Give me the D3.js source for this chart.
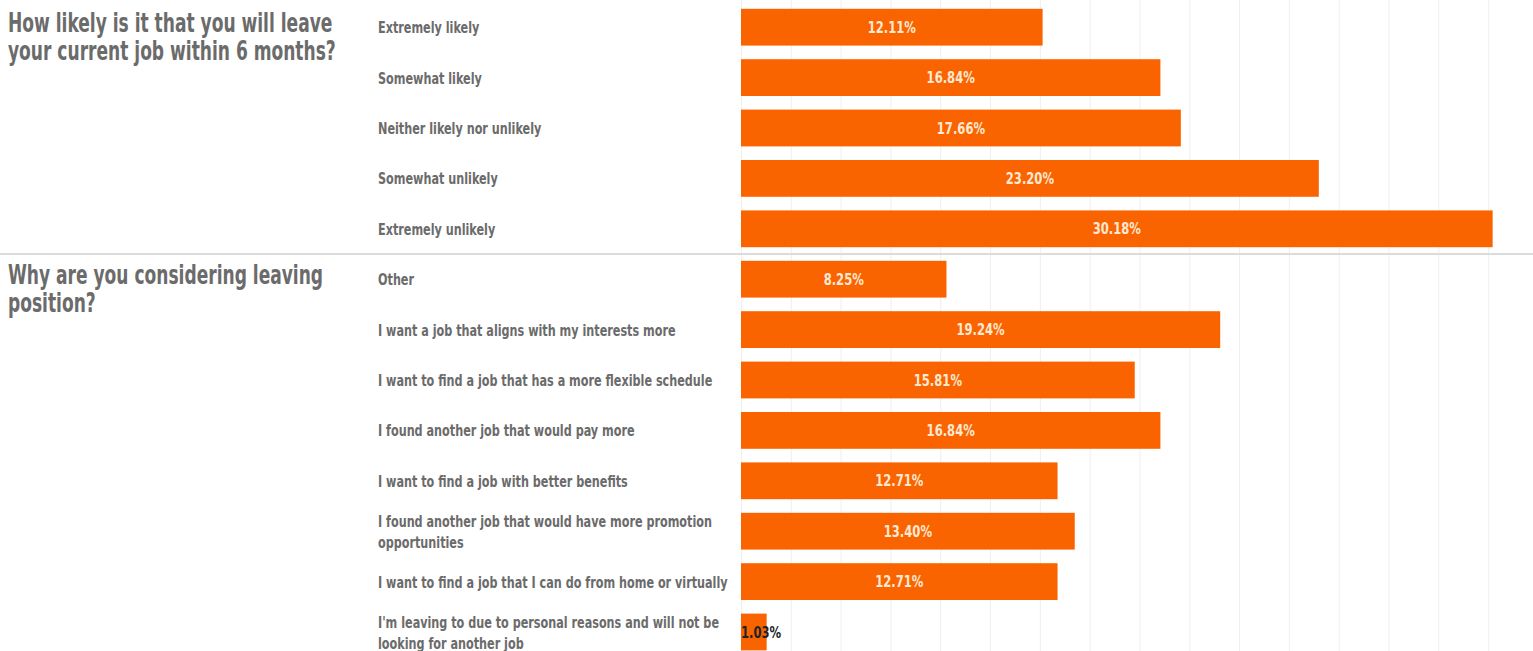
<!DOCTYPE html>
<html>
<head>
<meta charset="utf-8">
<script src="https://cdn.jsdelivr.net/npm/d3@7"></script>
<style>
  html, body { margin: 0; padding: 0; background: #fff; }
  svg { display: block; }
  text {
    font-family: "DejaVu Sans", sans-serif;
    font-stretch: condensed;
    font-weight: bold;
  }
</style>
</head>
<body>
<svg id="chart" width="1533" height="651"></svg>
<script>
// Survey answers (percent of respondents)
const likelihoodQuestion = "How likely is it that you will leave your current job within 6 months?";
const likelihoodCategories = [
  "Extremely likely",
  "Somewhat likely",
  "Neither likely nor unlikely",
  "Somewhat unlikely",
  "Extremely unlikely"
];
const likelihoodValues = [12.11, 16.84, 17.66, 23.20, 30.18];

const reasonQuestion = "Why are you considering leaving position?";
const reasonCategories = [
  "Other",
  "I want a job that aligns with my interests more",
  "I want to find a job that has a more flexible schedule",
  "I found another job that would pay more",
  "I want to find a job with better benefits",
  "I found another job that would have more promotion opportunities",
  "I want to find a job that I can do from home or virtually",
  "I'm leaving to due to personal reasons and will not be looking for another job"
];
const reasonValues = [8.25, 19.24, 15.81, 16.84, 12.71, 13.40, 12.71, 1.03];

const gridTicks = [0, 2, 4, 6, 8, 10, 12, 14, 16, 18, 20, 22, 24, 26, 28, 30];

// Layout
const W = 1533, H = 651;
const barLeft = 741;
const rowStep = 50.4;
const titleX = 8, labelX = 378;
const titleSize = 26, labelSize = 16, valueSize = 15;
const titleScale = 0.73, labelScale = 0.78, valueScale = 0.86;
const barColor = "#fa6400";
const textColor = "#6b6b6b";

const svg = d3.select("#chart");

const x = d3.scaleLinear().domain([0, 31.8]).range([barLeft, W]);

// vertical gridlines
svg.append("g")
  .attr("class", "grid")
  .call(d3.axisTop(x).tickValues(gridTicks).tickSize(-H).tickFormat(""))
  .call(g => g.select(".domain").remove())
  .call(g => g.selectAll(".tick line").attr("stroke", "#efefef").attr("stroke-width", 1));

const sections = [
  { question: likelihoodQuestion, categories: likelihoodCategories, values: likelihoodValues, top: 2 },
  { question: reasonQuestion, categories: reasonCategories, values: reasonValues, top: 254 }
];

// split a string into lines that fit maxWidth (measured with a horizontal scale)
function wrapLines(str, fontSize, scale, maxWidth) {
  const probe = svg.append("text").attr("font-size", fontSize);
  const words = str.split(" ");
  const lines = [];
  let line = [];
  words.forEach(w => {
    const test = line.concat(w).join(" ");
    probe.text(test);
    if (probe.node().getComputedTextLength() * scale > maxWidth && line.length) {
      lines.push(line.join(" "));
      line = [w];
    } else {
      line.push(w);
    }
  });
  if (line.length) lines.push(line.join(" "));
  probe.remove();
  return lines;
}

sections.forEach((s, si) => {
  const y = d3.scaleBand()
    .domain(s.categories)
    .range([s.top, s.top + rowStep * s.categories.length])
    .paddingInner(0.27)
    .paddingOuter(0.135);

  const g = svg.append("g").attr("class", "section");

  // question title
  const tLines = wrapLines(s.question, titleSize, titleScale, 345);
  tLines.forEach((ln, i) => {
    g.append("text")
      .attr("transform", `translate(${titleX},${s.top + 30 + i * 28}) scale(${titleScale},1)`)
      .attr("font-size", titleSize)
      .attr("fill", textColor)
      .text(ln);
  });

  // category labels
  s.categories.forEach(c => {
    const lines = wrapLines(c, labelSize, labelScale, 352);
    const cy = y(c) + y.bandwidth() / 2;
    const lh = 21;
    lines.forEach((ln, i) => {
      const by = cy + 6 + (i - (lines.length - 1) / 2) * lh;
      g.append("text")
        .attr("transform", `translate(${labelX},${by}) scale(${labelScale},1)`)
        .attr("font-size", labelSize)
        .attr("fill", textColor)
        .text(ln);
    });
  });

  // bars
  const data = s.categories.map((c, i) => ({ c, v: s.values[i] }));
  g.selectAll("rect.bar").data(data).join("rect")
    .attr("class", "bar")
    .attr("x", x(0))
    .attr("y", d => y(d.c))
    .attr("width", d => x(d.v) - x(0))
    .attr("height", y.bandwidth())
    .attr("fill", barColor);

  // value labels
  data.forEach(d => {
    const txt = d3.format(".2f")(d.v) + "%";
    const w = x(d.v) - x(0);
    const cy = y(d.c) + y.bandwidth() / 2 + 5.5;
    const inside = w > 60;
    const t = g.append("text")
      .attr("font-size", valueSize)
      .attr("fill", inside ? "#ffe9d4" : "#222")
      .attr("text-anchor", inside ? "middle" : "start")
      .text(txt);
    const tx = inside ? x(0) + w / 2 : x(0);
    t.attr("transform", `translate(${tx},${cy}) scale(${valueScale},1)`);
  });

  // separator below the first question
  if (si === 0) {
    svg.append("line")
      .attr("x1", 0).attr("x2", W)
      .attr("y1", y.range()[1]).attr("y2", y.range()[1])
      .attr("stroke", "#dcdcdc")
      .attr("stroke-width", 2);
  }
});
</script>
</body>
</html>
